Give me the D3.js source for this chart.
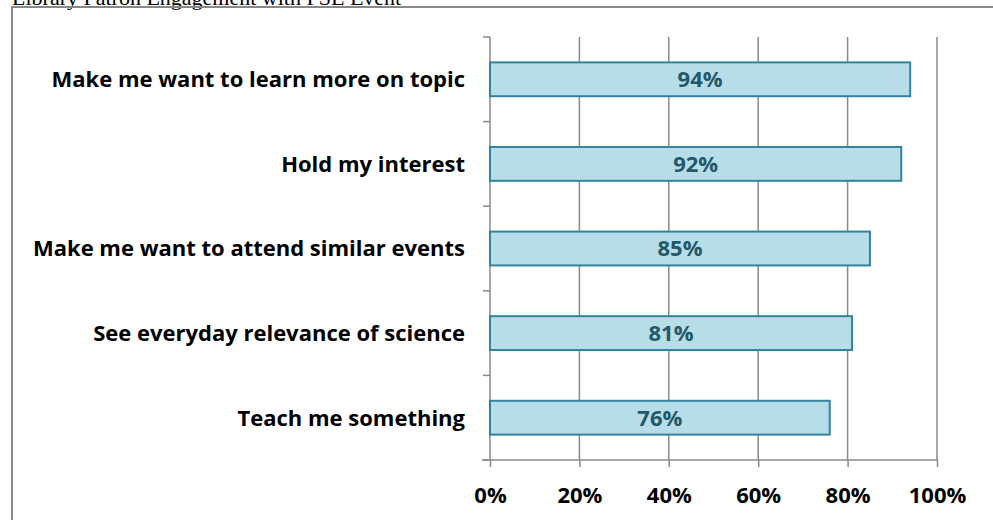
<!DOCTYPE html>
<html>
<head>
<meta charset="utf-8">
<script src="https://cdn.jsdelivr.net/npm/d3@7"></script>
<style>
  body { margin: 0; background: #fff; }
  svg { display: block; }
</style>
</head>
<body>
<script>
/* data */
var categories = [
  "Make me want to learn more on topic",
  "Hold my interest",
  "Make me want to attend similar events",
  "See everyday relevance of science",
  "Teach me something"
];
var values = [0.94, 0.92, 0.85, 0.81, 0.76];
var xTicks = [0, 0.2, 0.4, 0.6, 0.8, 1.0];
var title = "Library Patron Engagement with PSE Event";

var labelFont = "'Open Sans', Lato, sans-serif";

var svg = d3.select("body").append("svg")
  .attr("width", 993)
  .attr("height", 520);

/* title, clipped at the top like the source image */
svg.append("text")
  .attr("x", 12)
  .attr("y", 5)
  .style("font-family", "'Liberation Serif', 'Times New Roman', serif")
  .style("font-size", "22px")
  .text(title);

/* frame */
svg.append("rect")
  .attr("x", 12)
  .attr("y", 7)
  .attr("width", 1000)
  .attr("height", 530)
  .attr("fill", "none")
  .attr("stroke", "#888")
  .attr("stroke-width", 2);

var plotLeft = 490, plotRight = 937, plotTop = 37, plotBottom = 460;

var x = d3.scaleLinear().domain([0, 1]).range([plotLeft, plotRight]);
var y = d3.scaleBand().domain(categories).range([plotTop, plotBottom])
  .paddingInner(0.6).paddingOuter(0.3);

/* vertical gridlines */
svg.append("g")
  .selectAll("line")
  .data(xTicks.slice(1))
  .enter().append("line")
  .attr("x1", function (d) { return x(d); })
  .attr("x2", function (d) { return x(d); })
  .attr("y1", plotTop)
  .attr("y2", plotBottom)
  .attr("stroke", "#8a8a8a")
  .attr("stroke-width", 1.5);

/* x axis */
var xAxis = d3.axisBottom(x)
  .tickValues(xTicks)
  .tickFormat(d3.format(".0%"))
  .tickSize(7)
  .tickSizeOuter(0)
  .tickPadding(20);

var xg = svg.append("g")
  .attr("transform", "translate(0," + plotBottom + ")")
  .call(xAxis);
xg.select(".domain").attr("d", "M" + (plotLeft - 8) + ",0H" + plotRight);
xg.selectAll("path, line").attr("stroke", "#8a8a8a").attr("stroke-width", 1.5);
xg.selectAll("text")
  .style("font-family", labelFont)
  .style("font-weight", "bold")
  .style("font-size", "22px")
  .attr("fill", "#000");

/* y axis: ticks sit on band edges */
var edges = categories.map(function (c) { return y(c) - y.step() * y.paddingInner() / 2; });
edges.push(plotBottom);
var yg = svg.append("g");
yg.append("line")
  .attr("x1", plotLeft).attr("x2", plotLeft)
  .attr("y1", plotTop).attr("y2", plotBottom)
  .attr("stroke", "#8a8a8a").attr("stroke-width", 1.5);
yg.selectAll("line.tick")
  .data(edges)
  .enter().append("line")
  .attr("class", "tick")
  .attr("x1", plotLeft - 7).attr("x2", plotLeft)
  .attr("y1", function (d) { return d; })
  .attr("y2", function (d) { return d; })
  .attr("stroke", "#8a8a8a").attr("stroke-width", 1.5);

/* category labels */
svg.append("g")
  .selectAll("text")
  .data(categories)
  .enter().append("text")
  .attr("x", plotLeft - 25)
  .attr("y", function (d) { return y(d) + y.bandwidth() / 2; })
  .attr("dy", "0.36em")
  .attr("text-anchor", "end")
  .style("font-family", labelFont)
  .style("font-weight", "bold")
  .style("font-size", "22px")
  .attr("fill", "#000")
  .text(function (d) { return d; });

/* bars */
svg.append("g")
  .selectAll("rect")
  .data(values)
  .enter().append("rect")
  .attr("x", x(0))
  .attr("y", function (d, i) { return y(categories[i]); })
  .attr("width", function (d) { return x(d) - x(0); })
  .attr("height", y.bandwidth())
  .attr("fill", "#b7dde8")
  .attr("stroke", "#31849b")
  .attr("stroke-width", 2);

/* value labels */
svg.append("g")
  .selectAll("text")
  .data(values)
  .enter().append("text")
  .attr("x", function (d) { return (x(0) + x(d)) / 2; })
  .attr("y", function (d, i) { return y(categories[i]) + y.bandwidth() / 2; })
  .attr("dy", "0.36em")
  .attr("text-anchor", "middle")
  .style("font-family", labelFont)
  .style("font-weight", "bold")
  .style("font-size", "22px")
  .attr("fill", "#215968")
  .text(function (d) { return d3.format(".0%")(d); });
</script>
</body>
</html>
